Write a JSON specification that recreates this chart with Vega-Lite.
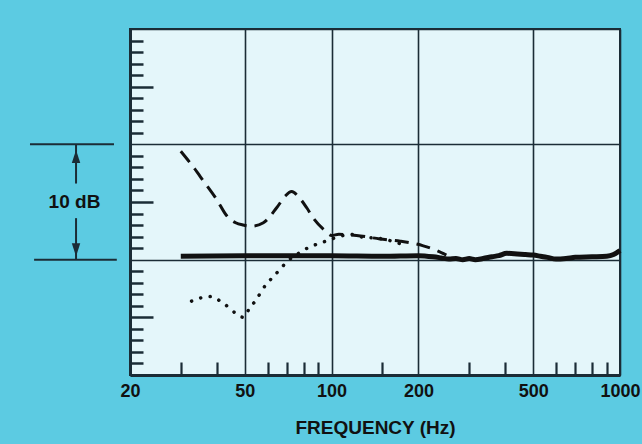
{
  "$schema": "https://vega.github.io/schema/vega-lite/v6.json",
  "width": 490,
  "height": 346,
  "autosize": {"type": "none"},
  "padding": {"left": 130, "top": 29, "right": 22, "bottom": 69},
  "background": "#5ccbe2",
  "config": {
    "view": {"fill": "#e4f6fa", "stroke": "#1b2c36", "strokeWidth": 2},
    "font": "Liberation Sans",
    "axis": {"labelFont": "Liberation Sans", "titleFont": "Liberation Sans"}
  },
  "datasets": {
    "solid": [
      {"freq": 30, "db": 0.3}, {"freq": 50, "db": 0.35}, {"freq": 100, "db": 0.35},
      {"freq": 150, "db": 0.3}, {"freq": 200, "db": 0.35}, {"freq": 225, "db": 0.25},
      {"freq": 240, "db": 0.15}, {"freq": 255, "db": 0.05}, {"freq": 270, "db": 0.1},
      {"freq": 285, "db": 0.0}, {"freq": 300, "db": 0.1}, {"freq": 315, "db": 0.0},
      {"freq": 335, "db": 0.1}, {"freq": 360, "db": 0.25}, {"freq": 380, "db": 0.35},
      {"freq": 405, "db": 0.55}, {"freq": 440, "db": 0.5}, {"freq": 470, "db": 0.45},
      {"freq": 500, "db": 0.4}, {"freq": 530, "db": 0.3}, {"freq": 560, "db": 0.2},
      {"freq": 600, "db": 0.05}, {"freq": 650, "db": 0.1}, {"freq": 700, "db": 0.2},
      {"freq": 800, "db": 0.25}, {"freq": 900, "db": 0.3}, {"freq": 950, "db": 0.45},
      {"freq": 1000, "db": 0.8}
    ],
    "dashed": [
      {"freq": 30, "db": 9.4}, {"freq": 33, "db": 8.1}, {"freq": 36, "db": 6.8},
      {"freq": 40, "db": 5.2}, {"freq": 43.3, "db": 3.8}, {"freq": 46.5, "db": 3.2},
      {"freq": 49.4, "db": 3.0}, {"freq": 52.8, "db": 2.9}, {"freq": 58, "db": 3.2},
      {"freq": 64.5, "db": 4.5}, {"freq": 69, "db": 5.5}, {"freq": 72.7, "db": 5.9},
      {"freq": 77.7, "db": 5.3}, {"freq": 82, "db": 4.5}, {"freq": 86.4, "db": 3.6},
      {"freq": 94, "db": 2.6}, {"freq": 100, "db": 2.1}, {"freq": 106, "db": 2.2},
      {"freq": 122, "db": 2.1}, {"freq": 147, "db": 1.8}, {"freq": 173, "db": 1.6},
      {"freq": 208, "db": 1.2}, {"freq": 231, "db": 0.8}, {"freq": 250, "db": 0.4}
    ],
    "dotted": [
      {"freq": 32.7, "db": -3.6}, {"freq": 35.4, "db": -3.3}, {"freq": 38.4, "db": -3.2},
      {"freq": 41.1, "db": -3.6}, {"freq": 43.8, "db": -4.1}, {"freq": 46.8, "db": -4.7},
      {"freq": 49.4, "db": -5.0}, {"freq": 51.7, "db": -4.3}, {"freq": 54.3, "db": -3.6},
      {"freq": 59.5, "db": -2.1}, {"freq": 62.7, "db": -1.5}, {"freq": 67, "db": -0.7},
      {"freq": 70.6, "db": -0.1}, {"freq": 76.3, "db": 0.5}, {"freq": 82.4, "db": 1.0},
      {"freq": 88, "db": 1.3}, {"freq": 95.3, "db": 1.6}, {"freq": 110, "db": 2.1},
      {"freq": 116, "db": 2.2}, {"freq": 125, "db": 2.0}, {"freq": 150, "db": 1.8},
      {"freq": 182, "db": 1.2}
    ],
    "bracketH": [
      {"f1": 9.0, "f2": 17.6, "db": 10},
      {"f1": 9.3, "f2": 18.0, "db": 0}
    ],
    "bracketV": [
      {"f": 13.0, "d1": 6.6, "d2": 10},
      {"f": 13.0, "d1": 0, "d2": 3.6}
    ],
    "arrowUp": [{"f": 13.0, "db": 8.95}],
    "arrowDown": [{"f": 13.0, "db": 0.85}],
    "label": [{"f": 12.84, "db": 5.0, "text": "10 dB"}]
  },
  "layer": [
    {
      "data": {"name": "solid"},
      "mark": {"type": "line", "color": "#111111", "strokeWidth": 5, "interpolate": "monotone"},
      "encoding": {
        "x": {
          "field": "freq", "type": "quantitative",
          "scale": {"type": "log", "domain": [20, 1000], "nice": false},
          "axis": {
            "orient": "bottom", "format": "d",
            "values": [20, 50, 100, 200, 500, 1000],
            "grid": true, "gridColor": "#1b2c36", "gridWidth": 1.6, "gridOpacity": 1,
            "ticks": false, "domainColor": "#1b2c36", "domainWidth": 3,
            "labelFontSize": 18, "labelFontWeight": "bold", "labelColor": "#111111",
            "labelPadding": 7, "labelFlush": false, "labelOverlap": false,
            "title": "FREQUENCY (Hz)", "titleFontSize": 19, "titleFontWeight": "bold",
            "titleColor": "#111111", "titlePadding": 18
          }
        },
        "y": {
          "field": "db", "type": "quantitative",
          "scale": {"domain": [-10, 20], "nice": false, "zero": false},
          "axis": {
            "orient": "left",
            "values": [-10, 0, 10, 20],
            "grid": true, "gridColor": "#1b2c36", "gridWidth": 1.6, "gridOpacity": 1,
            "ticks": false, "labels": false, "title": null,
            "domainColor": "#1b2c36", "domainWidth": 3
          }
        }
      }
    },
    {
      "data": {"name": "dashed"},
      "mark": {"type": "line", "color": "#111111", "strokeWidth": 3, "strokeDash": [14, 8], "interpolate": "monotone"},
      "encoding": {
        "x": {
          "field": "freq", "type": "quantitative",
          "axis": {
            "orient": "bottom",
            "values": [30, 40, 60, 70, 80, 90, 150, 300, 400, 600, 700, 800, 900],
            "grid": false, "domain": false, "labels": false, "title": null,
            "ticks": true, "tickSize": -13, "tickWidth": 2.2, "tickColor": "#1b2c36"
          }
        },
        "y": {
          "field": "db", "type": "quantitative",
          "axis": {
            "orient": "left",
            "values": [-9, -8, -7, -6, -4, -3, -2, -1, 1, 2, 3, 4, 6, 7, 8, 9, 11, 12, 13, 14, 16, 17, 18, 19],
            "grid": false, "domain": false, "labels": false, "title": null,
            "ticks": true, "tickSize": -13, "tickWidth": 2.5, "tickColor": "#1b2c36"
          }
        }
      }
    },
    {
      "data": {"name": "dotted"},
      "mark": {"type": "line", "color": "#111111", "strokeWidth": 3.5, "strokeDash": [0.1, 9.5], "strokeCap": "round", "interpolate": "monotone"},
      "encoding": {
        "x": {"field": "freq", "type": "quantitative", "axis": null},
        "y": {
          "field": "db", "type": "quantitative",
          "axis": {
            "orient": "left",
            "values": [-5, 5, 15],
            "grid": false, "domain": false, "labels": false, "title": null,
            "ticks": true, "tickSize": -23, "tickWidth": 2.5, "tickColor": "#1b2c36"
          }
        }
      }
    },
    {
      "data": {"name": "bracketH"},
      "mark": {"type": "rule", "color": "#1b2c36", "strokeWidth": 2},
      "encoding": {
        "x": {"field": "f1", "type": "quantitative", "axis": null},
        "x2": {"field": "f2"},
        "y": {"field": "db", "type": "quantitative", "axis": null}
      }
    },
    {
      "data": {"name": "bracketV"},
      "mark": {"type": "rule", "color": "#1b2c36", "strokeWidth": 2},
      "encoding": {
        "x": {"field": "f", "type": "quantitative", "axis": null},
        "y": {"field": "d1", "type": "quantitative", "axis": null},
        "y2": {"field": "d2"}
      }
    },
    {
      "data": {"name": "arrowUp"},
      "mark": {"type": "point", "filled": true, "color": "#1b2c36", "opacity": 1, "shape": "M0,-1L0.65,1L-0.65,1Z", "size": 169},
      "encoding": {
        "x": {"field": "f", "type": "quantitative", "axis": null},
        "y": {"field": "db", "type": "quantitative", "axis": null}
      }
    },
    {
      "data": {"name": "arrowDown"},
      "mark": {"type": "point", "filled": true, "color": "#1b2c36", "opacity": 1, "shape": "M0,1L0.65,-1L-0.65,-1Z", "size": 169},
      "encoding": {
        "x": {"field": "f", "type": "quantitative", "axis": null},
        "y": {"field": "db", "type": "quantitative", "axis": null}
      }
    },
    {
      "data": {"name": "label"},
      "mark": {"type": "text", "fontSize": 19, "fontWeight": "bold", "color": "#111111", "align": "center", "baseline": "middle"},
      "encoding": {
        "x": {"field": "f", "type": "quantitative", "axis": null},
        "y": {"field": "db", "type": "quantitative", "axis": null},
        "text": {"field": "text"}
      }
    }
  ],
  "resolve": {"axis": {"x": "independent", "y": "independent"}}
}
